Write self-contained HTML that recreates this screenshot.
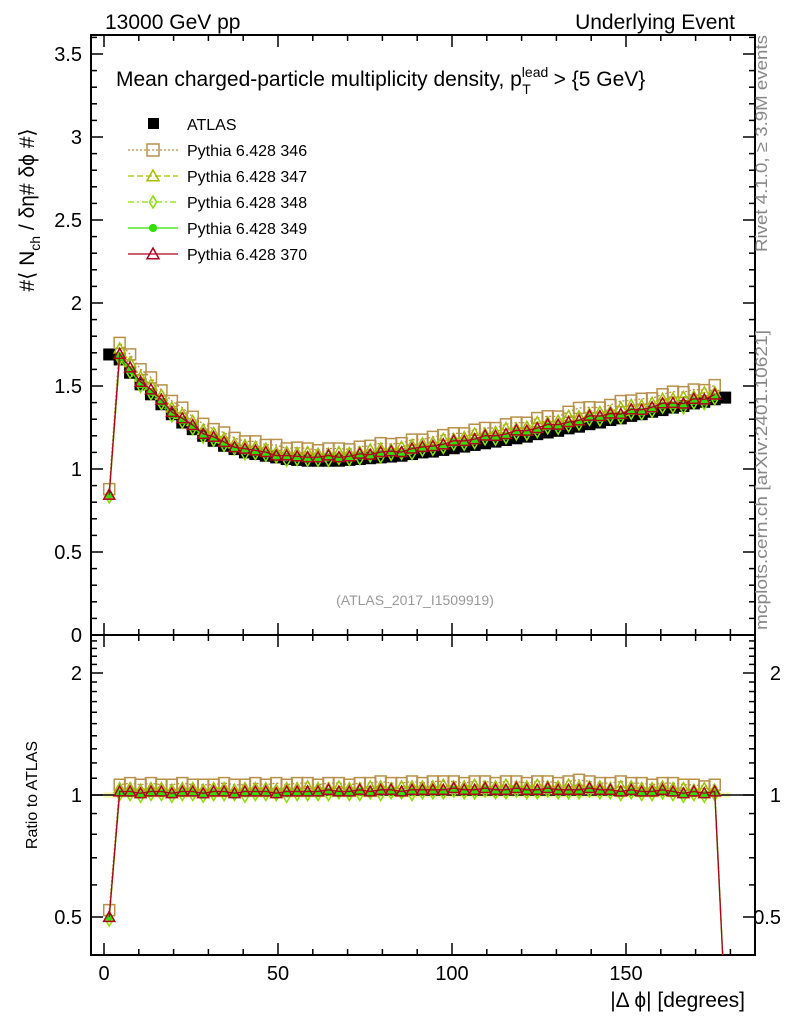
<!DOCTYPE html>
<html><head><meta charset="utf-8"><style>
html,body{margin:0;padding:0;background:#fff;}
svg text{font-family:"Liberation Sans",sans-serif;}
</style></head><body>
<svg id="chart" width="786" height="1024" xmlns="http://www.w3.org/2000/svg">
<g id="frames"></g>
<g id="plot"></g>
<text x="105" y="29" font-size="21">13000 GeV pp</text>
<text x="735" y="29" font-size="21" text-anchor="end">Underlying Event</text>
<text x="116" y="86" font-size="21">Mean charged-particle multiplicity density, p<tspan font-size="14" dy="-9">lead</tspan><tspan font-size="14" dx="-26" dy="17">T</tspan><tspan dx="17" dy="-8"> &gt; {5 GeV}</tspan></text>
<text transform="translate(34,210) rotate(-90)" font-size="21" text-anchor="middle">#⟨ N<tspan font-size="14" dy="6">ch</tspan><tspan dy="-6"> / δη# δϕ #⟩</tspan></text>
<text transform="translate(37,795) rotate(-90)" font-size="16" text-anchor="middle">Ratio to ATLAS</text>
<text x="745" y="1007" font-size="21" text-anchor="end">|Δ ϕ| [degrees]</text>
<text transform="translate(767,252) rotate(-90)" font-size="17" fill="#888" textLength="217" lengthAdjust="spacingAndGlyphs">Rivet 4.1.0, ≥ 3.9M events</text>
<text transform="translate(767,630) rotate(-90)" font-size="17" fill="#888" textLength="300" lengthAdjust="spacingAndGlyphs">mcplots.cern.ch [arXiv:2401.10621]</text>
<text x="415" y="605" font-size="14" fill="#999" text-anchor="middle">(ATLAS_2017_I1509919)</text>
<g id="legend"></g>
</svg>
<script>
const xCenters=[];for(let i=0;i<60;i++)xCenters.push(1.5+3*i);
const atlas=[1.69,1.66,1.58,1.51,1.45,1.39,1.33,1.28,1.24,1.20,1.17,1.14,1.12,1.10,1.09,1.08,1.07,1.06,1.055,1.05,1.05,1.05,1.05,1.055,1.06,1.065,1.07,1.075,1.08,1.09,1.10,1.105,1.115,1.125,1.135,1.145,1.155,1.165,1.175,1.185,1.195,1.21,1.22,1.23,1.245,1.255,1.27,1.28,1.295,1.305,1.32,1.33,1.345,1.355,1.37,1.38,1.395,1.405,1.42,1.43];
const r346=[0.52,1.06,1.07,1.06,1.07,1.06,1.06,1.07,1.06,1.06,1.06,1.07,1.06,1.06,1.07,1.06,1.07,1.06,1.07,1.07,1.06,1.07,1.07,1.06,1.07,1.07,1.08,1.07,1.07,1.08,1.07,1.08,1.08,1.08,1.07,1.08,1.08,1.07,1.08,1.08,1.07,1.08,1.08,1.07,1.08,1.09,1.08,1.07,1.07,1.08,1.07,1.07,1.06,1.07,1.07,1.06,1.06,1.05,1.06,0.3];
const r347=[0.5,1.04,1.04,1.03,1.04,1.04,1.03,1.04,1.04,1.03,1.04,1.04,1.03,1.04,1.04,1.04,1.03,1.04,1.04,1.05,1.04,1.04,1.05,1.04,1.04,1.05,1.05,1.04,1.05,1.05,1.05,1.05,1.06,1.05,1.05,1.06,1.05,1.05,1.06,1.05,1.05,1.06,1.05,1.05,1.06,1.05,1.05,1.05,1.04,1.05,1.05,1.04,1.04,1.05,1.04,1.04,1.03,1.04,1.03,0.3];
const r348=[0.49,1.0,1.0,0.99,1.0,1.0,0.99,1.0,1.0,0.99,1.0,1.0,1.0,0.99,1.0,1.0,1.0,0.99,1.0,1.0,1.0,1.0,1.01,1.0,1.0,1.01,1.0,1.01,1.01,1.0,1.01,1.01,1.01,1.02,1.01,1.01,1.02,1.01,1.01,1.02,1.01,1.01,1.02,1.01,1.01,1.01,1.02,1.01,1.01,1.0,1.01,1.0,1.0,1.01,1.0,0.99,1.0,0.99,1.0,0.3];
const r349=[0.5,1.01,1.01,1.0,1.01,1.01,1.0,1.01,1.01,1.0,1.01,1.01,1.0,1.01,1.01,1.01,1.0,1.01,1.01,1.01,1.01,1.02,1.01,1.01,1.02,1.01,1.02,1.02,1.01,1.02,1.02,1.02,1.02,1.03,1.02,1.02,1.03,1.02,1.02,1.03,1.02,1.02,1.03,1.02,1.02,1.02,1.03,1.02,1.02,1.01,1.02,1.01,1.01,1.02,1.01,1.0,1.01,1.0,1.01,0.3];
const r370=[0.5,1.02,1.02,1.01,1.02,1.02,1.01,1.02,1.02,1.01,1.02,1.02,1.01,1.02,1.02,1.02,1.01,1.02,1.02,1.02,1.02,1.03,1.02,1.02,1.03,1.02,1.03,1.03,1.02,1.03,1.03,1.03,1.03,1.04,1.03,1.03,1.04,1.03,1.03,1.04,1.03,1.03,1.04,1.03,1.03,1.03,1.04,1.03,1.03,1.02,1.03,1.02,1.02,1.03,1.02,1.01,1.02,1.01,1.02,0.3];
const seriesNames=["Pythia 6.428 346","Pythia 6.428 347","Pythia 6.428 348","Pythia 6.428 349","Pythia 6.428 370"];
const mainTicks=[0,0.5,1,1.5,2,2.5,3,3.5];
const ratioTicks=[0.5,1,2];
const xTicks=[0,50,100,150];

const NS="http://www.w3.org/2000/svg";
const L=91,R=755,T=35,MB=635,RB=955;
const xs=v=>104+v*3.48;
const ym=v=>635-v*166;
const yr=v=>795-Math.log2(v)*122;
function el(tag,attrs,parent){const e=document.createElementNS(NS,tag);for(const k in attrs)e.setAttribute(k,attrs[k]);parent.appendChild(e);return e;}
const fr=document.getElementById('frames'),pl=document.getElementById('plot'),lg=document.getElementById('legend');
let f1=el('rect',{x:L,y:T,width:R-L,height:MB-T,fill:'none',stroke:'#000','stroke-width':2},fr);

let f2=el('rect',{x:L,y:MB,width:R-L,height:RB-MB,fill:'none',stroke:'#000','stroke-width':2},fr);

for(let i=0;i<=36;i++){const v=i/10;const y=ym(v);if(y<T)continue;const len=i%5==0?12:6;
el('line',{x1:L,x2:L+len,y1:y,y2:y,stroke:'#000','stroke-width':1.5},fr);el('line',{x1:R,x2:R-len,y1:y,y2:y,stroke:'#000','stroke-width':1.5},fr);}
mainTicks.forEach(v=>{const t=el('text',{x:82,y:ym(v)+7,'font-size':20,'text-anchor':'end'},fr);t.textContent=v;
});
const rminor=[0.4,0.5,0.6,0.7,0.8,0.9,1,1.1,1.2,1.3,1.4,1.5,1.6,1.7,1.8,1.9,2,2.1,2.2,2.3,2.4];
rminor.forEach(v=>{const y=yr(v);if(y<MB||y>RB)return;const len=(v==0.5||v==1||v==2)?12:6;
el('line',{x1:L,x2:L+len,y1:y,y2:y,stroke:'#000','stroke-width':1.5},fr);el('line',{x1:R,x2:R-len,y1:y,y2:y,stroke:'#000','stroke-width':1.5},fr);});
ratioTicks.forEach(v=>{let t=el('text',{x:82,y:yr(v)+7,'font-size':20,'text-anchor':'end'},fr);t.textContent=v;

t=el('text',{x:781,y:yr(v)+7,'font-size':20,'text-anchor':'end'},fr);t.textContent=v;
});
for(let v=0;v<=180;v+=10){const x=xs(v);const len=v%50==0?12:6;
[[MB,-1],[MB,1],[RB,-1],[T,1]].forEach(([y,d])=>el('line',{x1:x,x2:x,y1:y,y2:y+d*len,stroke:'#000','stroke-width':1.5},fr));}
xTicks.forEach(v=>{const t=el('text',{x:xs(v),y:980,'font-size':20,'text-anchor':'middle'},fr);t.textContent=v;
});
const defs=el('defs',{},pl);
const cp=el('clipPath',{id:'cm'},defs);el('rect',{x:L,y:T,width:R-L,height:MB-T},cp);
const cr=el('clipPath',{id:'cr'},defs);el('rect',{x:L,y:MB,width:R-L,height:RB-MB},cr);
const gm=el('g',{'clip-path':'url(#cm)'},pl),gr=el('g',{'clip-path':'url(#cr)'},pl);
el('rect',{x:xs(0),y:yr(1.015),width:xs(180)-xs(0),height:yr(0.985)-yr(1.015),fill:'#f0f080',opacity:0.6},gr);
el('line',{x1:L,x2:R,y1:yr(1),y2:yr(1),stroke:'#000','stroke-width':1.5},gr);
function marker(g,type,x,y,c,s){
 if(type=='sq')return el('rect',{x:x-s,y:y-s,width:2*s,height:2*s,fill:'none',stroke:c,'stroke-width':1.5},g);
 if(type=='tri')return el('polygon',{points:`${x},${y-s} ${x-s},${y+s*0.8} ${x+s},${y+s*0.8}`,fill:'none',stroke:c,'stroke-width':1.5},g);
 if(type=='dia')return el('polygon',{points:`${x},${y-s} ${x-s*0.6},${y} ${x},${y+s} ${x+s*0.6},${y}`,fill:'none',stroke:c,'stroke-width':1.5},g);
 if(type=='cross')return el('circle',{cx:x,cy:y,r:s*0.6,fill:c,stroke:c,'stroke-width':1},g);
}
const series=[
 {r:r346,c:'#b8904a',m:'sq',d:'2,2',n:'series-346'},
 {r:r347,c:'#a0c000',m:'tri',d:'6,3',n:'series-347'},
 {r:r348,c:'#88e000',m:'dia',d:'6,3,2,3',n:'series-348'},
 {r:r349,c:'#30e000',m:'cross',d:'',n:'series-349'},
 {r:r370,c:'#b00020',m:'tri',d:'',n:'series-370'}];
atlas.forEach((v,i)=>{const r=el('rect',{x:xs(xCenters[i])-6,y:ym(v)-6,width:12,height:12,fill:'#000'},gm);
});
series.forEach(s=>{
 const n=atlas.length-1;
 let pts=[],rpts=[];
 for(let i=0;i<=n;i++){const x=xs(xCenters[i]);if(i<n)pts.push(x+','+ym(atlas[i]*s.r[i]));rpts.push(x+','+yr(s.r[i]));}
 const p=el('polyline',{points:pts.join(' '),fill:'none',stroke:s.c,'stroke-width':1.3,'stroke-dasharray':s.d},gm);
 
 const q=el('polyline',{points:rpts.join(' '),fill:'none',stroke:s.c,'stroke-width':1.3,'stroke-dasharray':s.d},gr);
 
 for(let i=0;i<=n;i++){const x=xs(xCenters[i]);
  if(i<n){const m=marker(gm,s.m,x,ym(atlas[i]*s.r[i]),s.c,5.5);}
  const m2=marker(gr,s.m,x,yr(s.r[i]),s.c,5.5);}
});
const ly=[124,150,176,202,228,254];
let lr=el('rect',{x:148,y:ly[0]-6,width:11,height:11,fill:'#000'},lg);

let lt=el('text',{x:187,y:ly[0]+6,'font-size':16},lg);lt.textContent='ATLAS';

series.forEach((s,i)=>{const y=ly[i+1];
 const l=el('line',{x1:128,x2:178,y1:y,y2:y,stroke:s.c,'stroke-width':1.3,'stroke-dasharray':s.d},lg);
 
 marker(lg,s.m,153,y,s.c,6);
 const t=el('text',{x:187,y:y+6,'font-size':16},lg);t.textContent=seriesNames[i];
 });
</script>
</body></html>
